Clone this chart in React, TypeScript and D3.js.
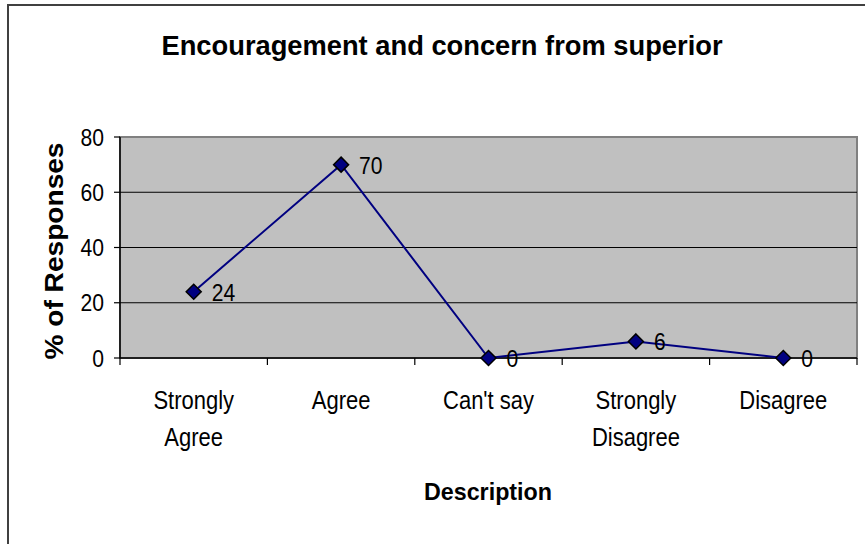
import React from "react";
import * as d3 from "d3";

const categories: string[][] = [
  ["Strongly", "Agree"],
  ["Agree"],
  ["Can't say"],
  ["Strongly", "Disagree"],
  ["Disagree"],
];
const values: number[] = [24, 70, 0, 6, 0];
const yTicks: number[] = [0, 20, 40, 60, 80];
const titleText = "Encouragement and concern from superior";
const xTitle = "Description";
const yTitle = "% of Responses";

const W = 865;
const H = 544;
const plot = { left: 120, right: 857, top: 137, bottom: 358 };
const FONT = "'Liberation Sans', Arial, sans-serif";
const SX = 0.88;

function NText(props: {
  x: number;
  y: number;
  anchor?: "start" | "middle" | "end";
  size?: number;
  children: React.ReactNode;
}) {
  const { x, y, anchor = "start", size = 24, children } = props;
  return (
    <g transform={`translate(${x},${y}) scale(${SX},1)`}>
      <text x={0} y={0} textAnchor={anchor} fontSize={size} fill="#000">
        {children}
      </text>
    </g>
  );
}

export default function App() {
  const x = d3
    .scaleBand<number>()
    .domain(d3.range(values.length))
    .range([plot.left, plot.right])
    .paddingInner(0)
    .paddingOuter(0);
  const y = d3.scaleLinear().domain([0, 80]).range([plot.bottom, plot.top]);
  const cx = (i: number) => (x(i) as number) + x.bandwidth() / 2;
  const line = d3
    .line<number>()
    .x((_, i) => cx(i))
    .y((d) => y(d));
  const diamond = (px: number, py: number, r = 7.5) =>
    `M${px},${py - r}L${px + r},${py}L${px},${py + r}L${px - r},${py}Z`;
  const boundaries = d3.range(values.length + 1).map((i) =>
    i < values.length ? (x(i) as number) : plot.right
  );

  return (
    <svg
      width={W}
      height={H}
      style={{ position: "absolute", left: 0, top: 0, background: "#fff" }}
      fontFamily={FONT}
    >
      <rect x={0} y={0} width={W} height={H} fill="#fff" />
      {/* outer frame */}
      <rect x={8} y={5} width={900} height={600} fill="none" stroke="#404040" strokeWidth={2} />
      {/* title */}
      <text
        x={442}
        y={55}
        textAnchor="middle"
        fontSize={28}
        fontWeight="bold"
        fill="#000"
        textLength={561}
        lengthAdjust="spacingAndGlyphs"
      >
        {titleText}
      </text>
      {/* plot area */}
      <rect
        x={plot.left}
        y={plot.top}
        width={plot.right - plot.left}
        height={plot.bottom - plot.top}
        fill="#C0C0C0"
        stroke="#808080"
        strokeWidth={2}
      />
      {/* gridlines */}
      {yTicks
        .filter((t) => t !== 0 && t !== 80)
        .map((t) => (
          <line key={t} x1={plot.left} x2={plot.right} y1={y(t)} y2={y(t)} stroke="#000" strokeWidth={1.2} />
        ))}
      {/* y axis */}
      <line x1={plot.left} x2={plot.left} y1={plot.top} y2={plot.bottom} stroke="#000" strokeWidth={1.5} />
      {yTicks.map((t) => (
        <g key={t}>
          <line x1={plot.left - 6} x2={plot.left} y1={y(t)} y2={y(t)} stroke="#000" strokeWidth={1.2} />
          <NText x={104} y={y(t) + 8.5} anchor="end">
            {t}
          </NText>
        </g>
      ))}
      {/* x axis */}
      <line x1={plot.left} x2={plot.right} y1={plot.bottom} y2={plot.bottom} stroke="#000" strokeWidth={1.5} />
      {boundaries.map((b, i) => (
        <line key={i} x1={b} x2={b} y1={plot.bottom} y2={plot.bottom + 7} stroke="#000" strokeWidth={1.2} />
      ))}
      {categories.map((lines, i) => (
        <g key={i}>
          {lines.map((l, j) => (
            <NText key={j} x={cx(i)} y={409 + j * 37} anchor="middle" size={25}>
              {l}
            </NText>
          ))}
        </g>
      ))}
      {/* axis titles */}
      <text
        x={488}
        y={500}
        textAnchor="middle"
        fontSize={24}
        fontWeight="bold"
        fill="#000"
        textLength={128}
        lengthAdjust="spacingAndGlyphs"
      >
        {xTitle}
      </text>
      <text
        transform={`translate(63,251) rotate(-90)`}
        textAnchor="middle"
        fontSize={26}
        fontWeight="bold"
        fill="#000"
        textLength={217}
        lengthAdjust="spacingAndGlyphs"
      >
        {yTitle}
      </text>
      {/* series */}
      <path d={line(values) || ""} fill="none" stroke="#000080" strokeWidth={2} />
      {values.map((v, i) => (
        <path key={i} d={diamond(cx(i), y(v))} fill="#000080" stroke="#000" strokeWidth={1.5} />
      ))}
      {values.map((v, i) => (
        <NText key={i} x={cx(i) + 18} y={y(v) + 9}>
          {v}
        </NText>
      ))}
    </svg>
  );
}
